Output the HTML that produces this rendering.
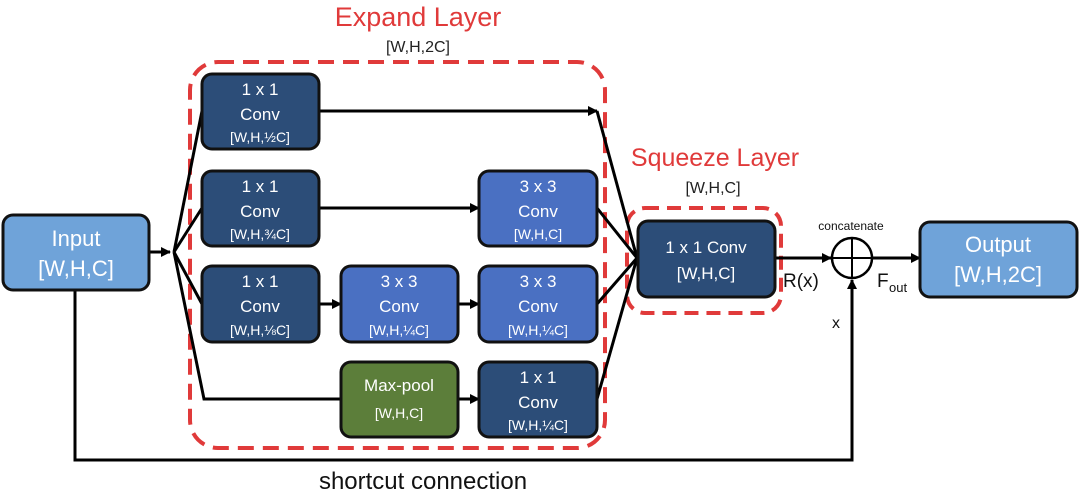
<!DOCTYPE html>
<html><head><style>
html,body{margin:0;padding:0;background:#fff;width:1080px;height:497px;overflow:hidden}
text{font-family:"Liberation Sans",sans-serif}
</style></head><body>
<svg width="1080" height="497" viewBox="0 0 1080 497" xmlns="http://www.w3.org/2000/svg">
<defs>
<marker id="a" markerWidth="10" markerHeight="10" refX="9" refY="5" orient="auto" markerUnits="userSpaceOnUse">
<path d="M0,0 L10,5 L0,10 z" fill="#000"/></marker>
</defs>
<rect x="190" y="62" width="415" height="386" rx="28" fill="none" stroke="#e03a3a" stroke-width="4" stroke-dasharray="16,9"/>
<rect x="627" y="208" width="154" height="105" rx="18" fill="none" stroke="#e03a3a" stroke-width="4" stroke-dasharray="14,8"/>
<text x="418" y="26" text-anchor="middle" font-size="27" fill="#e03a3a">Expand Layer</text>
<text x="418" y="52" text-anchor="middle" font-size="16" fill="#222">[W,H,2C]</text>
<text x="715" y="166" text-anchor="middle" font-size="25" fill="#e03a3a">Squeeze Layer</text>
<text x="713" y="193" text-anchor="middle" font-size="16" fill="#222">[W,H,C]</text>

<g stroke="#000" stroke-width="3" fill="none">
<line x1="149" y1="252" x2="170" y2="252" marker-end="url(#a)"/>
<polyline points="174,252 202,111"/>
<polyline points="174,252 202,208"/>
<polyline points="174,252 202,304"/>
<polyline points="174,252 204,399 341,399"/>
<line x1="319" y1="111" x2="597" y2="111" marker-end="url(#a)"/>
<line x1="319" y1="208" x2="479" y2="208" marker-end="url(#a)"/>
<line x1="319" y1="304" x2="341" y2="304" marker-end="url(#a)"/>
<line x1="458" y1="304" x2="479" y2="304" marker-end="url(#a)"/>
<line x1="458" y1="399" x2="479" y2="399" marker-end="url(#a)"/>
<polyline points="597,111 637,258"/>
<polyline points="597,208 637,258"/>
<polyline points="597,304 637,258"/>
<polyline points="597,399 637,258"/>
<line x1="775" y1="258" x2="831" y2="258" marker-end="url(#a)"/>
<line x1="872" y1="258" x2="920" y2="258" marker-end="url(#a)"/>
<polyline points="75,290 75,460 852,460 852,280" marker-end="url(#a)"/>
</g>
<circle cx="852" cy="258" r="20" fill="#fff" stroke="#000" stroke-width="2.5"/>
<line x1="832" y1="258" x2="872" y2="258" stroke="#000" stroke-width="2"/>
<line x1="852" y1="238" x2="852" y2="278" stroke="#000" stroke-width="2"/>

<g stroke="#111" stroke-width="3">
<rect x="3" y="215" width="146" height="75" rx="10" fill="#6fa3d9"/>
<rect x="202" y="74" width="117" height="75" rx="10" fill="#2c4d78"/>
<rect x="202" y="171" width="117" height="75" rx="10" fill="#2c4d78"/>
<rect x="202" y="266" width="117" height="76" rx="10" fill="#2c4d78"/>
<rect x="341" y="266" width="117" height="76" rx="10" fill="#4a70c2"/>
<rect x="479" y="171" width="118" height="75" rx="10" fill="#4a70c2"/>
<rect x="479" y="266" width="118" height="76" rx="10" fill="#4a70c2"/>
<rect x="341" y="362" width="117" height="75" rx="10" fill="#5c7e3a"/>
<rect x="479" y="362" width="118" height="75" rx="10" fill="#2c4d78"/>
<rect x="638" y="221" width="137" height="76" rx="10" fill="#2c4d78"/>
<rect x="920" y="222" width="157" height="75" rx="10" fill="#6fa3d9"/>
</g>
<g fill="#fff" text-anchor="middle">
<text x="76" y="246" font-size="22">Input</text>
<text x="76" y="276" font-size="22">[W,H,C]</text>
<text x="998" y="252" font-size="22">Output</text>
<text x="998" y="282" font-size="22">[W,H,2C]</text>
<text x="706" y="253" font-size="17">1 x 1 Conv</text>
<text x="706" y="279" font-size="17">[W,H,C]</text>
<g font-size="17">
<text x="260" y="95">1 x 1</text><text x="260" y="120">Conv</text>
<text x="260" y="192">1 x 1</text><text x="260" y="217">Conv</text>
<text x="260" y="287">1 x 1</text><text x="260" y="312">Conv</text>
<text x="399" y="287">3 x 3</text><text x="399" y="312">Conv</text>
<text x="538" y="192">3 x 3</text><text x="538" y="217">Conv</text>
<text x="538" y="287">3 x 3</text><text x="538" y="312">Conv</text>
<text x="538" y="383">1 x 1</text><text x="538" y="408">Conv</text>
<text x="399" y="391">Max-pool</text>
</g>
<g font-size="14">
<text x="260" y="142">[W,H,½C]</text>
<text x="260" y="239">[W,H,¾C]</text>
<text x="260" y="335">[W,H,⅛C]</text>
<text x="399" y="335">[W,H,¼C]</text>
<text x="538" y="239">[W,H,C]</text>
<text x="538" y="335">[W,H,¼C]</text>
<text x="538" y="430">[W,H,¼C]</text>
<text x="399" y="418">[W,H,C]</text>
</g>
</g>
<g fill="#111">
<text x="851" y="230" text-anchor="middle" font-size="12">concatenate</text>
<text x="783" y="287" font-size="19">R(x)</text>
<text x="877" y="287" font-size="19">F</text><text x="889" y="292" font-size="13">out</text>
<text x="832" y="328" font-size="16">x</text>
<text x="423" y="489" text-anchor="middle" font-size="24">shortcut connection</text>
</g>
</svg>
</body></html>
